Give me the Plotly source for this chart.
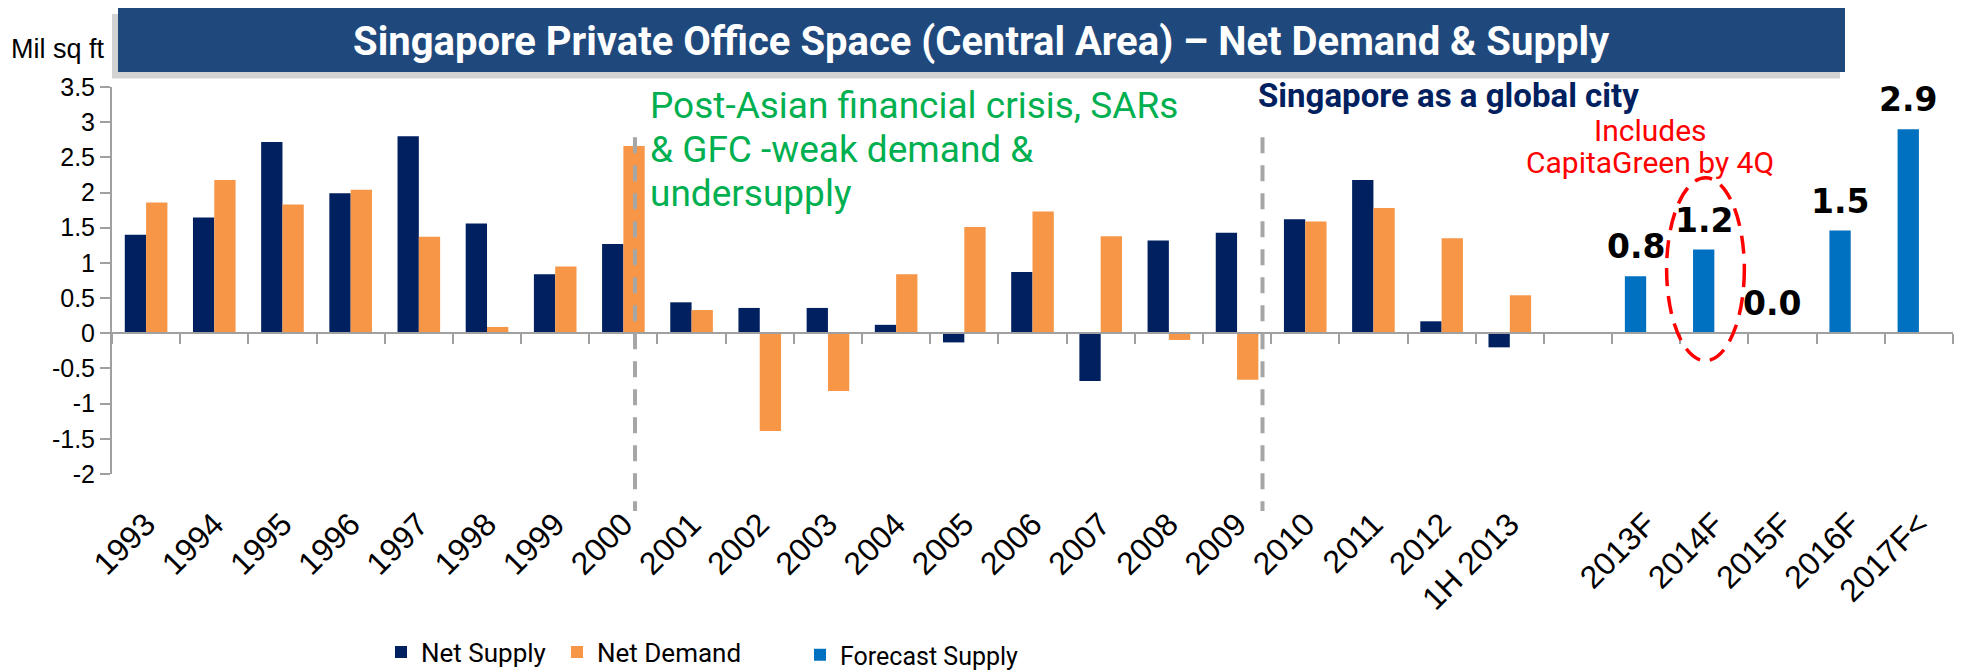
import plotly.graph_objects as go

# ---------------- data ----------------
categories = ["1993", "1994", "1995", "1996", "1997", "1998", "1999", "2000",
              "2001", "2002", "2003", "2004", "2005", "2006", "2007", "2008",
              "2009", "2010", "2011", "2012", "1H 2013", " ",
              "2013F", "2014F", "2015F", "2016F", "2017F<"]

net_supply = [1.40, 1.645, 2.72, 1.99, 2.80, 1.56, 0.84, 1.27,
              0.44, 0.36, 0.36, 0.12, -0.13, 0.87, -0.68, 1.32,
              1.43, 1.62, 2.18, 0.17, -0.20, None,
              None, None, None, None, None]

net_demand = [1.86, 2.18, 1.83, 2.04, 1.37, 0.09, 0.95, 2.66,
              0.33, -1.39, -0.82, 0.84, 1.51, 1.73, 1.38, -0.095,
              -0.66, 1.59, 1.78, 1.35, 0.54, None,
              None, None, None, None, None]

forecast_supply = [None] * 22 + [0.81, 1.19, 0.0, 1.46, 2.90]
forecast_labels = [None] * 22 + ["0.8", "1.2", "0.0", "1.5", "2.9"]

y_ticks = [-2, -1.5, -1, -0.5, 0, 0.5, 1, 1.5, 2, 2.5, 3, 3.5]

title_text = "Singapore Private Office Space (Central Area) – Net Demand & Supply"
green_lines = ["Post-Asian financial crisis, SARs", "& GFC -weak demand &", "undersupply"]
red_lines = ["Includes", "CapitaGreen by 4Q"]

# ---------------- geometry helpers (pixels -> paper) ----------------
W, H = 1966, 671
L, R, T, B = 112, 13, 86.5, 195.3
PW, PH = W - L - R, H - T - B


def px(x):
    return (x - L) / PW


def py(y):
    return (H - B - y) / PH


NAVY = "#002060"
ORANGE = "#F79646"
FBLUE = "#0070C0"
GRAY = "#A0A0A0"
TXT_FONT = "Roboto, 'Open Sans', sans-serif"
AX_FONT = "'Liberation Sans', Arial, sans-serif"

fig = go.Figure()
fig.add_trace(go.Bar(x=categories, y=net_supply, name="Net Supply",
                     marker=dict(color=NAVY, line=dict(width=0)),
                     offsetgroup="supply", legend="legend"))
fig.add_trace(go.Bar(x=categories, y=net_demand, name="Net Demand",
                     marker=dict(color=ORANGE, line=dict(width=0)),
                     offsetgroup="demand", legend="legend3"))
fig.add_trace(go.Bar(x=categories, y=forecast_supply, name="Forecast Supply",
                     marker=dict(color=FBLUE, line=dict(width=0)),
                     offsetgroup="supply", legend="legend2"))
# invisible trace to carry the zero-crossing category axis
fig.add_trace(go.Scatter(x=categories, y=[None] * len(categories), xaxis="x2",
                         showlegend=False, hoverinfo="skip", mode="markers"))

annotations = []
# data labels for forecast bars
for cat, v, lab in zip(categories, forecast_supply, forecast_labels):
    if v is None:
        continue
    annotations.append(dict(x=cat, y=v, xref="x", yref="y", text=lab,
                            showarrow=False, yanchor="bottom", xanchor="center",
                            xshift=-10.6, yshift=8,
                            font=dict(family="'DejaVu Sans', sans-serif", size=33,
                                      color="#000000", weight="bold")))

annotations.append(dict(x=px(981.5), y=py(41), xref="paper", yref="paper",
                        text="<b>" + title_text + "</b>",
                        showarrow=False, xanchor="center", yanchor="middle",
                        font=dict(family=TXT_FONT, size=40, color="#FFFFFF")))
annotations.append(dict(x=px(9), y=py(48), xref="paper", yref="paper",
                        text="Mil sq ft", showarrow=False, xanchor="left", yanchor="middle",
                        font=dict(family=AX_FONT, size=27, color="#000000")))
for i, line in enumerate(green_lines):
    annotations.append(dict(x=px(648), y=py(105 + 44.5 * i), xref="paper", yref="paper",
                            text=line, showarrow=False, xanchor="left", yanchor="middle",
                            font=dict(family=TXT_FONT, size=37, color="#00B050")))
annotations.append(dict(x=px(1256), y=py(95), xref="paper", yref="paper",
                        text="<b>Singapore as a global city</b>",
                        showarrow=False, xanchor="left", yanchor="middle",
                        font=dict(family=TXT_FONT, size=33, color=NAVY)))
for i, line in enumerate(red_lines):
    annotations.append(dict(x=px(1650), y=py(130 + 32 * i), xref="paper", yref="paper",
                            text=line, showarrow=False, xanchor="center", yanchor="middle",
                            font=dict(family=TXT_FONT, size=30, color="#FF0000")))

shapes = [
    # title banner shadow + banner
    dict(type="rect", xref="paper", yref="paper",
         x0=px(112), x1=px(1840), y0=py(78), y1=py(13),
         fillcolor="#7F7F7F", opacity=0.35, line=dict(width=0), layer="above"),
    dict(type="rect", xref="paper", yref="paper",
         x0=px(118), x1=px(1845), y0=py(71.5), y1=py(7),
         fillcolor="#1F497D", line=dict(width=0), layer="above"),
    # period separators
    dict(type="line", xref="paper", yref="paper",
         x0=px(635), x1=px(635), y0=py(137), y1=py(513),
         line=dict(color="#A6A6A6", width=4, dash="16px,12px")),
    dict(type="line", xref="paper", yref="paper",
         x0=px(1262.5), x1=px(1262.5), y0=py(137), y1=py(513),
         line=dict(color="#A6A6A6", width=4, dash="16px,12px")),
    # CapitaGreen ellipse
    dict(type="circle", xref="x", yref="y",
         x0=22.30, x1=23.44, y0=-0.39, y1=2.21,
         line=dict(color="#FF0000", width=3.5, dash="18px,10px")),
]

legend_common = dict(orientation="h", xref="container", yref="container",
                     xanchor="left", yanchor="middle", itemwidth=30,
                     bgcolor="rgba(0,0,0,0)")

fig.update_layout(
    width=W, height=H,
    margin=dict(l=L, r=R, t=T, b=B, pad=0),
    paper_bgcolor="#FFFFFF", plot_bgcolor="#FFFFFF",
    barmode="group", bargap=0.375, bargroupgap=0,
    showlegend=True,
    legend=dict(legend_common, x=381 / W, y=1 - 652 / H,
                font=dict(family=TXT_FONT, size=26, color="#000000")),
    legend3=dict(legend_common, x=557 / W, y=1 - 652 / H,
                 font=dict(family=TXT_FONT, size=26, color="#000000")),
    legend2=dict(legend_common, x=800 / W, y=1 - 655 / H,
                 font=dict(family=TXT_FONT, size=25, color="#000000")),
    xaxis=dict(type="category", categoryorder="array", categoryarray=categories,
               range=[-0.5, len(categories) - 0.5],
               showline=False, ticks="", showgrid=False, zeroline=False,
               tickangle=-45, ticklabelstandoff=24,
               tickfont=dict(family=AX_FONT, size=32, color="#000000"),
               fixedrange=True),
    xaxis2=dict(type="category", categoryorder="array", categoryarray=categories,
                range=[-0.5, len(categories) - 0.5],
                overlaying="x", anchor="free", position=2 / 5.5,
                showline=True, linecolor=GRAY, linewidth=2,
                ticks="outside", tickson="boundaries", ticklen=10,
                tickcolor=GRAY, tickwidth=2,
                showticklabels=False, showgrid=False, zeroline=False),
    yaxis=dict(range=[-2, 3.5], tickvals=y_ticks,
               ticktext=[f"{v:g}" for v in y_ticks],
               showline=True, linecolor=GRAY, linewidth=2,
               ticks="outside", ticklen=10, tickcolor=GRAY, tickwidth=2,
               showgrid=False, zeroline=False, fixedrange=True,
               tickfont=dict(family=AX_FONT, size=25, color="#000000")),
    annotations=annotations,
    shapes=shapes,
)

fig.write_html("out.html", config={"displayModeBar": False},
               post_script="document.body.style.margin='0';document.body.style.overflow='hidden';")
